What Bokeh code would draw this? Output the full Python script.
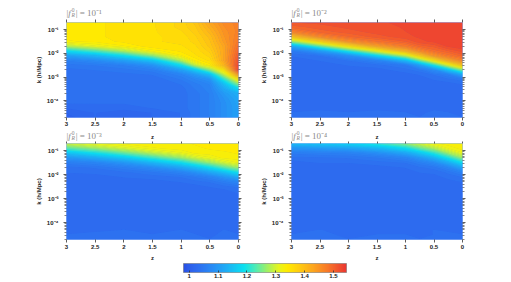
import numpy as np
from bokeh.plotting import figure
from bokeh.layouts import column, row
from bokeh.models import (Range1d, FixedTicker, LinearAxis, Label,
                          LinearColorMapper, PrintfTickFormatter)
from bokeh.embed import file_html
from bokeh.resources import INLINE

# ---------------- data ----------------
Z_NODES = [0.0, 0.25, 0.5, 0.75, 1.0, 1.5, 2.0, 2.5, 3.0]
# log10 k nodes, top -> bottom
LOGK_NODES = [-0.7, -0.9, -1.1, -1.3, -1.5, -1.7, -1.9, -2.1, -2.3, -2.5, -2.7,
              -2.9, -3.1, -3.3, -3.5, -3.7, -3.9, -4.1, -4.3, -4.5, -4.7]

PANEL_EXPONENTS = ["1", "2", "3", "4"]

VALUES_FR1 = [
    [1.47, 1.46, 1.43, 1.39, 1.37, 1.355, 1.35, 1.345, 1.34],
    [1.47, 1.455, 1.42, 1.385, 1.37, 1.355, 1.35, 1.345, 1.34],
    [1.47, 1.45, 1.41, 1.38, 1.365, 1.355, 1.35, 1.345, 1.34],
    [1.475, 1.445, 1.40, 1.375, 1.36, 1.355, 1.35, 1.345, 1.34],
    [1.48, 1.44, 1.395, 1.37, 1.36, 1.355, 1.35, 1.34, 1.335],
    [1.49, 1.43, 1.39, 1.365, 1.355, 1.355, 1.335, 1.315, 1.28],
    [1.50, 1.43, 1.38, 1.36, 1.35, 1.33, 1.28, 1.23, 1.19],
    [1.51, 1.43, 1.37, 1.355, 1.335, 1.26, 1.19, 1.14, 1.11],
    [1.52, 1.43, 1.36, 1.34, 1.28, 1.16, 1.11, 1.08, 1.06],
    [1.53, 1.41, 1.34, 1.29, 1.19, 1.09, 1.06, 1.05, 1.045],
    [1.53, 1.35, 1.26, 1.17, 1.11, 1.055, 1.045, 1.04, 1.035],
    [1.44, 1.29, 1.15, 1.10, 1.065, 1.04, 1.035, 1.03, 1.03],
    [1.34, 1.21, 1.09, 1.07, 1.05, 1.03, 1.03, 1.03, 1.03],
    [1.26, 1.15, 1.07, 1.055, 1.04, 1.03, 1.03, 1.03, 1.03],
    [1.18, 1.12, 1.065, 1.05, 1.035, 1.03, 1.03, 1.03, 1.03],
    [1.13, 1.10, 1.06, 1.045, 1.035, 1.03, 1.03, 1.03, 1.03],
    [1.12, 1.09, 1.06, 1.045, 1.035, 1.03, 1.03, 1.03, 1.03],
    [1.115, 1.085, 1.06, 1.045, 1.035, 1.03, 1.03, 1.03, 1.03],
    [1.11, 1.085, 1.06, 1.045, 1.035, 1.03, 1.025, 1.025, 1.02],
    [1.11, 1.085, 1.06, 1.045, 1.03, 1.02, 1.01, 1.02, 1.01],
    [1.11, 1.085, 1.06, 1.045, 1.03, 1.02, 1.01, 1.02, 1.005],
]

VALUES_FR2 = [
    [1.535, 1.533, 1.531, 1.529, 1.527, 1.524, 1.521, 1.518, 1.515],
    [1.535, 1.533, 1.531, 1.529, 1.526, 1.522, 1.518, 1.51, 1.50],
    [1.535, 1.533, 1.531, 1.528, 1.525, 1.52, 1.51, 1.50, 1.465],
    [1.535, 1.533, 1.53, 1.527, 1.522, 1.51, 1.495, 1.46, 1.39],
    [1.534, 1.532, 1.528, 1.522, 1.505, 1.485, 1.45, 1.37, 1.27],
    [1.532, 1.528, 1.51, 1.50, 1.475, 1.43, 1.35, 1.24, 1.125],
    [1.52, 1.505, 1.49, 1.46, 1.41, 1.32, 1.21, 1.105, 1.05],
    [1.50, 1.48, 1.445, 1.38, 1.29, 1.18, 1.085, 1.04, 1.03],
    [1.465, 1.42, 1.345, 1.25, 1.15, 1.065, 1.04, 1.03, 1.025],
    [1.39, 1.305, 1.20, 1.11, 1.05, 1.035, 1.03, 1.025, 1.025],
    [1.26, 1.16, 1.08, 1.045, 1.035, 1.025, 1.025, 1.025, 1.025],
    [1.12, 1.06, 1.04, 1.03, 1.025, 1.025, 1.025, 1.025, 1.025],
    [1.045, 1.035, 1.03, 1.025, 1.025, 1.025, 1.025, 1.025, 1.025],
    [1.03, 1.025, 1.025, 1.025, 1.025, 1.025, 1.025, 1.025, 1.025],
    [1.025, 1.025, 1.025, 1.025, 1.025, 1.025, 1.025, 1.025, 1.025],
    [1.025, 1.025, 1.025, 1.025, 1.025, 1.025, 1.025, 1.025, 1.025],
    [1.025, 1.025, 1.025, 1.025, 1.025, 1.025, 1.025, 1.025, 1.025],
    [1.025, 1.025, 1.025, 1.025, 1.025, 1.025, 1.025, 1.025, 1.025],
    [1.025, 1.025, 1.025, 1.025, 1.025, 1.025, 1.025, 1.025, 1.025],
    [1.025, 1.03, 1.035, 1.025, 1.03, 1.035, 1.03, 1.035, 1.03],
    [1.03, 1.035, 1.04, 1.03, 1.03, 1.04, 1.03, 1.04, 1.035],
]

VALUES_FR3 = [
    [1.34, 1.34, 1.34, 1.338, 1.335, 1.335, 1.33, 1.317, 1.297],
    [1.34, 1.34, 1.338, 1.335, 1.333, 1.325, 1.30, 1.268, 1.234],
    [1.338, 1.335, 1.333, 1.33, 1.315, 1.285, 1.24, 1.194, 1.155],
    [1.333, 1.33, 1.315, 1.295, 1.265, 1.215, 1.16, 1.123, 1.093],
    [1.318, 1.297, 1.265, 1.23, 1.19, 1.14, 1.095, 1.068, 1.055],
    [1.272, 1.234, 1.19, 1.15, 1.12, 1.08, 1.057, 1.041, 1.035],
    [1.198, 1.155, 1.12, 1.09, 1.065, 1.048, 1.037, 1.032, 1.03],
    [1.126, 1.093, 1.065, 1.05, 1.04, 1.033, 1.03, 1.025, 1.025],
    [1.07, 1.055, 1.04, 1.035, 1.03, 1.025, 1.025, 1.025, 1.025],
    [1.042, 1.035, 1.03, 1.025, 1.025, 1.025, 1.025, 1.025, 1.025],
    [1.033, 1.025, 1.025, 1.025, 1.025, 1.025, 1.025, 1.025, 1.025],
    [1.025, 1.025, 1.025, 1.025, 1.025, 1.025, 1.025, 1.025, 1.025],
    [1.025, 1.025, 1.025, 1.025, 1.025, 1.025, 1.025, 1.025, 1.025],
    [1.025, 1.025, 1.025, 1.025, 1.025, 1.025, 1.025, 1.025, 1.025],
    [1.025, 1.025, 1.025, 1.025, 1.025, 1.025, 1.025, 1.025, 1.025],
    [1.025, 1.025, 1.025, 1.025, 1.025, 1.025, 1.025, 1.025, 1.025],
    [1.025, 1.025, 1.025, 1.025, 1.025, 1.025, 1.025, 1.025, 1.025],
    [1.025, 1.025, 1.025, 1.025, 1.025, 1.025, 1.025, 1.025, 1.025],
    [1.025, 1.03, 1.025, 1.025, 1.03, 1.025, 1.03, 1.025, 1.025],
    [1.03, 1.035, 1.025, 1.03, 1.035, 1.03, 1.035, 1.035, 1.03],
    [1.035, 1.035, 1.03, 1.03, 1.035, 1.03, 1.035, 1.04, 1.03],
]

VALUES_FR4 = [
    [1.335, 1.333, 1.325, 1.30, 1.265, 1.215, 1.18, 1.165, 1.15],
    [1.333, 1.318, 1.28, 1.24, 1.19, 1.14, 1.113, 1.10, 1.09],
    [1.315, 1.272, 1.21, 1.16, 1.12, 1.083, 1.062, 1.058, 1.052],
    [1.265, 1.198, 1.135, 1.095, 1.065, 1.048, 1.04, 1.037, 1.035],
    [1.19, 1.126, 1.078, 1.057, 1.04, 1.035, 1.03, 1.03, 1.025],
    [1.12, 1.07, 1.045, 1.037, 1.03, 1.025, 1.025, 1.025, 1.025],
    [1.065, 1.042, 1.032, 1.03, 1.025, 1.025, 1.025, 1.025, 1.025],
    [1.04, 1.033, 1.025, 1.025, 1.025, 1.025, 1.025, 1.025, 1.025],
    [1.03, 1.025, 1.025, 1.025, 1.025, 1.025, 1.025, 1.025, 1.025],
    [1.025, 1.025, 1.025, 1.025, 1.025, 1.025, 1.025, 1.025, 1.025],
    [1.025, 1.025, 1.025, 1.025, 1.025, 1.025, 1.025, 1.025, 1.025],
    [1.025, 1.025, 1.025, 1.025, 1.025, 1.025, 1.025, 1.025, 1.025],
    [1.025, 1.025, 1.025, 1.025, 1.025, 1.025, 1.025, 1.025, 1.025],
    [1.025, 1.025, 1.025, 1.025, 1.025, 1.025, 1.025, 1.025, 1.025],
    [1.025, 1.025, 1.025, 1.025, 1.025, 1.025, 1.025, 1.025, 1.025],
    [1.025, 1.025, 1.025, 1.025, 1.025, 1.025, 1.025, 1.025, 1.025],
    [1.025, 1.025, 1.025, 1.025, 1.025, 1.025, 1.025, 1.025, 1.025],
    [1.025, 1.025, 1.025, 1.025, 1.025, 1.025, 1.025, 1.025, 1.025],
    [1.025, 1.025, 1.03, 1.025, 1.025, 1.025, 1.025, 1.03, 1.025],
    [1.03, 1.035, 1.03, 1.025, 1.03, 1.03, 1.025, 1.035, 1.03],
    [1.035, 1.035, 1.03, 1.03, 1.03, 1.035, 1.03, 1.035, 1.03],
]

Z_TICKS = [3, 2.5, 2, 1.5, 1, 0.5, 0]
K_TICKS = [-1, -2, -3, -4]
K_TICK_LABELS = {-1: "10\u207b\u00b9", -2: "10\u207b\u00b2", -3: "10\u207b\u00b3", -4: "10\u207b\u2074"}
SUPERSCRIPT = {"1": "\u00b9", "2": "\u00b2", "3": "\u00b3", "4": "\u2074"}
COLOR_TICKS = [1.0, 1.1, 1.2, 1.3, 1.4, 1.5]
COLOR_LOW, COLOR_HIGH = 0.98, 1.545

# ---------------- style ----------------
COLOR_STOPS = [0.98, 1.00, 1.03, 1.08, 1.13, 1.19, 1.23, 1.27, 1.31, 1.34, 1.38, 1.43, 1.48, 1.545]
COLOR_RGB = [(40, 80, 230), (45, 95, 235), (45, 110, 240), (40, 140, 245), (30, 175, 245),
             (10, 225, 240), (80, 235, 180), (160, 240, 100), (230, 245, 30), (255, 235, 0),
             (255, 205, 15), (252, 165, 30), (248, 120, 40), (235, 55, 50)]


def cmap(v):
    rgb = np.array(COLOR_RGB, dtype=float)
    r = np.interp(v, COLOR_STOPS, rgb[:, 0])
    g = np.interp(v, COLOR_STOPS, rgb[:, 1])
    b = np.interp(v, COLOR_STOPS, rgb[:, 2])
    return "#%02x%02x%02x" % (int(round(r)), int(round(g)), int(round(b)))


LEVELS = np.linspace(COLOR_LOW, COLOR_HIGH, 58)
FILL_COLORS = [cmap(0.5 * (a + b)) for a, b in zip(LEVELS[:-1], LEVELS[1:])]
PALETTE_256 = [cmap(v) for v in np.linspace(COLOR_LOW, COLOR_HIGH, 256)]
BODY_BLUE = cmap(1.027)

TICK_COLOR = "#333333"
FONT = "Liberation Sans"
LABEL_SIZE = "6px"
TITLE_COLOR = "#8a8a8a"
K_MINOR = [np.log10(m) + e for e in range(-5, 0) for m in range(2, 10)
           if -4.7 <= np.log10(m) + e <= -0.7]

TOTAL_W = 472


def style_axis(ax, show_labels=True):
    ax.axis_line_color = None
    ax.major_tick_out = 3
    ax.major_tick_in = 0
    ax.minor_tick_out = 2
    ax.minor_tick_in = 0
    ax.major_tick_line_color = TICK_COLOR
    ax.minor_tick_line_color = TICK_COLOR
    ax.major_tick_line_width = 0.8
    ax.minor_tick_line_width = 0.6
    ax.major_label_text_font = FONT
    ax.major_label_text_font_style = "bold"
    ax.axis_label_text_font = FONT
    ax.axis_label_text_font_style = "bold"
    ax.axis_label_text_font_size = LABEL_SIZE
    ax.axis_label_text_color = "#222222"
    if show_labels:
        ax.major_label_text_font_size = LABEL_SIZE
        ax.major_label_text_color = "#222222"
    else:
        ax.major_label_text_font_size = "0px"
        ax.major_label_text_color = None
        ax.major_label_standoff = 0


def make_panel(values, frame_w, frame_h, borders, bottom_row):
    left, right, top, bottom = borders
    p = figure(frame_width=frame_w, frame_height=frame_h, title=None,
               x_range=Range1d(3, 0), y_range=Range1d(-4.7, -0.7),
               output_backend="svg", toolbar_location=None,
               min_border_left=left, min_border_right=right,
               min_border_top=top, min_border_bottom=bottom,
               outline_line_color=None, background_fill_color=BODY_BLUE,
               border_fill_color="white")
    p.grid.visible = False

    zvals = np.array(values, dtype=float)[::-1]
    ynodes = LOGK_NODES[::-1]
    # drawn twice so that anti-aliasing seams between bands disappear
    for _ in range(2):
        p.contour(x=Z_NODES, y=ynodes, z=zvals, levels=list(LEVELS),
                  fill_color=FILL_COLORS, line_color=None)

    xa = p.xaxis[0]
    xa.ticker = FixedTicker(ticks=Z_TICKS, minor_ticks=[])
    xa.formatter = PrintfTickFormatter(format="%g")
    style_axis(xa)
    if bottom_row:
        xa.major_label_standoff = 2
        xa.axis_label = "z"
        xa.axis_label_standoff = 3
    else:
        xa.major_label_standoff = 1

    ya = p.yaxis[0]
    ya.ticker = FixedTicker(ticks=K_TICKS, minor_ticks=K_MINOR)
    ya.major_label_overrides = K_TICK_LABELS
    style_axis(ya)
    ya.major_label_standoff = 5
    ya.axis_label = "k (h/Mpc)"
    ya.axis_label_standoff = 2

    top_ax = LinearAxis(ticker=FixedTicker(ticks=Z_TICKS, minor_ticks=[]))
    style_axis(top_ax, show_labels=False)
    if bottom_row:
        top_ax.major_tick_out = 2
    p.add_layout(top_ax, "above")
    right_ax = LinearAxis(ticker=FixedTicker(ticks=K_TICKS, minor_ticks=K_MINOR))
    style_axis(right_ax, show_labels=False)
    p.add_layout(right_ax, "right")
    return p


def make_strip(height):
    s = figure(frame_width=TOTAL_W, frame_height=height, title=None,
               x_range=Range1d(0, TOTAL_W), y_range=Range1d(height, 0),
               x_axis_location=None, y_axis_location=None,
               output_backend="svg", toolbar_location=None,
               min_border_left=0, min_border_right=0, min_border_top=0,
               min_border_bottom=0, outline_line_color=None,
               background_fill_color="white", border_fill_color="white")
    s.grid.visible = False
    return s


def add_title(s, x_px, y_px, exponent):
    common = dict(text_baseline="middle", text_align="left",
                  text_color=TITLE_COLOR, text_font="Liberation Serif")
    s.add_layout(Label(x=x_px, y=y_px, text="|", text_font_size="9px", **common))
    s.add_layout(Label(x=x_px + 1.8, y=y_px, text="f", text_font_size="9px",
                       text_font_style="italic", **common))
    s.add_layout(Label(x=x_px + 5.2, y=y_px - 3.0, text="0",
                       text_font_size="5.5px", **common))
    s.add_layout(Label(x=x_px + 5.0, y=y_px + 2.2, text="R",
                       text_font_size="5.5px", text_font_style="italic", **common))
    s.add_layout(Label(x=x_px + 9.2, y=y_px, text="| = 10\u207b" + SUPERSCRIPT[exponent],
                       text_font_size="9px", **common))


def add_zlabel(s, x_px, y_px):
    s.add_layout(Label(x=x_px, y=y_px, text="z", text_align="center",
                       text_baseline="middle", text_font=FONT,
                       text_font_style="bold", text_font_size=LABEL_SIZE,
                       text_color="#222222"))


# strip with the titles of the upper panels
strip_a = make_strip(19)
add_title(strip_a, 66, 12.5, PANEL_EXPONENTS[0])
add_title(strip_a, 291, 12.5, PANEL_EXPONENTS[1])

p1 = make_panel(VALUES_FR1, 172, 95, (66, 6, 3, 11), False)
p2 = make_panel(VALUES_FR2, 171, 95, (47, 10, 3, 11), False)

# strip between the rows: x label of the upper panels, titles of the lower ones
strip_b = make_strip(13)
add_zlabel(strip_b, 152, 8.7)
add_zlabel(strip_b, 376.5, 8.7)
add_title(strip_b, 66, 7.0, PANEL_EXPONENTS[2])
add_title(strip_b, 291, 7.0, PANEL_EXPONENTS[3])

p3 = make_panel(VALUES_FR3, 172, 96, (66, 6, 2, 22), True)
p4 = make_panel(VALUES_FR4, 171, 96, (47, 10, 2, 22), True)

# colour bar
cb = figure(frame_width=163, frame_height=9, title=None,
            x_range=Range1d(COLOR_LOW, COLOR_HIGH), y_range=Range1d(0, 1),
            output_backend="svg", toolbar_location=None, y_axis_location=None,
            min_border_left=183, min_border_right=10, min_border_top=0,
            min_border_bottom=0, outline_line_color="#555555",
            outline_line_width=0.6, border_fill_color="white")
cb.grid.visible = False
mapper = LinearColorMapper(palette=PALETTE_256, low=COLOR_LOW, high=COLOR_HIGH)
cb.image(image=[np.linspace(COLOR_LOW, COLOR_HIGH, 256).reshape(1, -1)],
         x=COLOR_LOW, y=0, dw=COLOR_HIGH - COLOR_LOW, dh=1, color_mapper=mapper)
cax = cb.xaxis[0]
cax.ticker = FixedTicker(ticks=COLOR_TICKS, minor_ticks=[])
cax.formatter = PrintfTickFormatter(format="%g")
style_axis(cax)
cax.major_tick_out = 0
cax.major_tick_in = 2
cax.major_label_standoff = 1

layout = column(row(strip_a), row(p1, p2), row(strip_b), row(p3, p4), row(cb))
open("out.html", "w").write(file_html(layout, INLINE))
